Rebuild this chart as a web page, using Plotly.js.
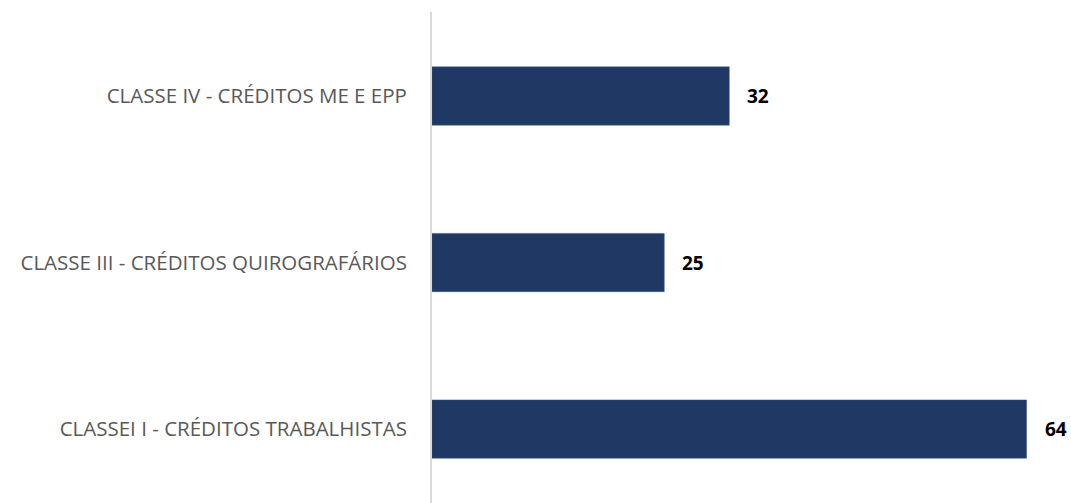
<!DOCTYPE html>
<html>
<head>
<meta charset="utf-8">
<script src="https://cdn.plot.ly/plotly-3.0.1.min.js"></script>
<style>html,body{margin:0;padding:0;background:#fff;}#chart{width:1071px;height:503px;}</style>
</head>
<body>
<div id="chart"></div>
<script>
const categories = ['CLASSEI I - CRÉDITOS TRABALHISTAS', 'CLASSE III - CRÉDITOS QUIROGRAFÁRIOS', 'CLASSE IV - CRÉDITOS ME E EPP'];
const values = [64, 25, 32];

const trace = {
  type: 'bar',
  orientation: 'h',
  y: categories,
  x: values,
  width: 0.35,
  marker: {color: '#203864', line: {color: '#3b5583', width: 0.5}},
  hoverinfo: 'none'
};

const annotations = values.map((v, i) => ({
  x: v, y: categories[i], xref: 'x', yref: 'y',
  text: '<b>' + v + '</b>', showarrow: false,
  xanchor: 'left', xshift: 16,
  font: {family: 'Open Sans, Liberation Sans, sans-serif', size: 19, color: '#000000'}
}));

const layout = {
  width: 1071, height: 503,
  margin: {l: 432, r: 11, t: 12, b: 0},
  paper_bgcolor: '#ffffff', plot_bgcolor: '#ffffff',
  showlegend: false,
  xaxis: {range: [0, 67.6], showgrid: false, zeroline: false, showticklabels: false, showline: false, fixedrange: true},
  yaxis: {
    type: 'category', range: [-0.444, 2.5045],
    showgrid: false, zeroline: false,
    showline: true, linecolor: '#d9d9d9', linewidth: 2,
    ticks: '', ticklabelstandoff: 19,
    tickfont: {family: 'Open Sans, Liberation Sans, sans-serif', size: 20.5, color: '#595959'},
    fixedrange: true
  },
  annotations: annotations
};

Plotly.newPlot('chart', [trace], layout, {displayModeBar: false, staticPlot: true});
</script>
</body>
</html>
